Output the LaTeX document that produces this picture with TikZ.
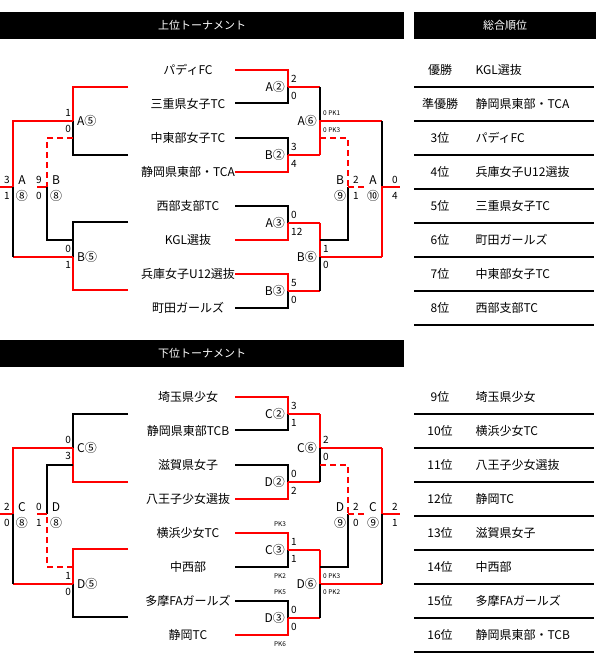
\documentclass[tikz,border=0pt]{standalone}
\usepackage{fontspec}
\setmainfont{Noto Sans CJK JP}
\usetikzlibrary{positioning}

\begin{document}
\begin{tikzpicture}[
        x=1pt, y=-1pt,
        win/.style={red, line width=2pt},
        lose/.style={black, line width=2pt},
        pkwin/.style={red, line width=2pt, dash pattern=on 6pt off 4pt},
        header/.style={fill=black, text=white, font=\fontsize{11}{13}\selectfont},
        team/.style={font=\fontsize{12}{14}\selectfont},
        match/.style={font=\fontsize{12}{14}\selectfont, inner sep=1pt},
        score/.style={font=\fontsize{10}{12}\selectfont, inner sep=1pt},
        pk/.style={font=\fontsize{6.5}{8}\selectfont, inner sep=1pt},
        rankline/.style={line width=2pt}
    ]
        \useasboundingbox (0,0) rectangle (600,670);

        % headers
        \node (hup) [header, minimum width=404pt, minimum height=27pt, anchor=north west] at (0,12) {上位トーナメント};
        \node (hrank) [header, minimum width=182pt, minimum height=27pt, anchor=north west] at (414,12) {総合順位};
        \node (hlow) [header, minimum width=404pt, minimum height=27pt, anchor=north west] at (0,340) {下位トーナメント};

        % ranking table
        \foreach \r/\t [count=\i from 0] in {優勝/KGL選抜, 準優勝/静岡県東部・TCA, 3位/パディFC, 4位/兵庫女子U12選抜,
                5位/三重県女子TC, 6位/町田ガールズ, 7位/中東部女子TC, 8位/西部支部TC,
                9位/埼玉県少女, 10位/横浜少女TC, 11位/八王子少女選抜, 12位/静岡TC,
                13位/滋賀県女子, 14位/中西部, 15位/多摩FAガールズ, 16位/静岡県東部・TCB} {
            \pgfmathsetmacro{\ry}{70+34*mod(\i,8)+327*int(\i/8)}
            \node (rank\i) [team] at (440,\ry) {\r};
            \node (name\i) [team, anchor=west] at (472,\ry) {\t};
            \draw [rankline] (414,\ry+17) -- (594,\ry+17);
        }

        % upper tournament
        \foreach \t [count=\i from 0] in {パディFC, 三重県女子TC, 中東部女子TC, 静岡県東部・TCA,
                西部支部TC, KGL選抜, 兵庫女子U12選抜, 町田ガールズ} {
            \node (up\i) [team] at (188,70+34*\i) {\t};
        }
        \draw [win] (235,70) -| (288,87);
        \draw [lose] (235,103) -| (288,87);
        \draw [win] (288,87) -- (320,87);
        \draw [lose] (235,138) -| (288,155);
        \draw [win] (235,172) -| (288,155);
        \draw [win] (288,155) -- (320,155);
        \draw [lose] (320,87) -- (320,121);
        \draw [win] (320,155) -- (320,121) -- (382,121);
        \draw [pkwin] (320,138) -- (348,138) -- (348,187);
        \draw [lose] (235,206) -| (288,223);
        \draw [win] (235,240) -| (288,223);
        \draw [win] (288,223) -- (320,223);
        \draw [win] (235,274) -| (288,291);
        \draw [lose] (235,308) -| (288,291);
        \draw [win] (288,291) -- (320,291);
        \draw [win] (320,223) -- (320,257) -- (382,257);
        \draw [lose] (320,291) -- (320,257);
        \draw [lose] (320,240) -- (348,240) -- (348,187);
        \draw [lose] (382,121) -- (382,187);
        \draw [win] (382,257) -- (382,187) -- (400,187);
        \draw [pkwin] (348,187) -- (364,187);
        % left side
        \draw [win] (128,87) -| (73,121);
        \draw [lose] (128,155) -| (73,121);
        \draw [win] (73,121) -- (13,121) -- (13,187) -- (0,187);
        \draw [pkwin] (73,138) -- (47,138) -- (47,187);
        \draw [win] (47,187) -- (37,187);
        \draw [lose] (128,222) -| (73,257);
        \draw [win] (128,290) -| (73,257);
        \draw [win] (73,257) -- (13,257);
        \draw [lose] (13,257) -- (13,187);
        \draw [lose] (73,240) -- (47,240) -- (47,187);

        \node (ua5) [match, anchor=west] at (76,121) {A⑤};
        \node [score, anchor=east] at (72,113) {1};
        \node [score, anchor=east] at (72,129) {0};
        \node (ub5) [match, anchor=west] at (76,257) {B⑤};
        \node [score, anchor=east] at (72,249) {0};
        \node [score, anchor=east] at (72,265) {1};
        \node [score] at (7,180) {3};
        \node [score] at (7,196) {1};
        \node (ua8) [match] at (22,180) {A};
        \node [match] at (22,196) {⑧};
        \node [score] at (39,180) {9};
        \node [score] at (39,196) {0};
        \node (ub8) [match] at (56,180) {B};
        \node [match] at (56,196) {⑧};

        \node (ua2) [match, anchor=east] at (286,87) {A②};
        \node [score, anchor=west] at (290,79) {2};
        \node [score, anchor=west] at (290,96) {0};
        \node (ub2) [match, anchor=east] at (286,155) {B②};
        \node [score, anchor=west] at (290,147) {3};
        \node [score, anchor=west] at (290,164) {4};
        \node (ua3) [match, anchor=east] at (286,223) {A③};
        \node [score, anchor=west] at (290,215) {0};
        \node [score, anchor=west] at (290,232) {12};
        \node (ub3) [match, anchor=east] at (286,291) {B③};
        \node [score, anchor=west] at (290,283) {5};
        \node [score, anchor=west] at (290,300) {0};
        \node (ua6) [match, anchor=east] at (318,121) {A⑥};
        \node [pk, anchor=west] at (322,113) {0 PK1};
        \node [pk, anchor=west] at (322,130) {0 PK3};
        \node (ub6) [match, anchor=east] at (318,257) {B⑥};
        \node [score, anchor=west] at (322,249) {1};
        \node [score, anchor=west] at (322,265) {0};
        \node (ub9) [match] at (340,180) {B};
        \node [match] at (340,196) {⑨};
        \node [score] at (356,180) {2};
        \node [score] at (356,196) {1};
        \node (ua10) [match] at (373,180) {A};
        \node [match] at (373,196) {⑩};
        \node [score] at (395,180) {0};
        \node [score] at (395,196) {4};

        % lower tournament
        \begin{scope}[yshift=-327pt]
        \foreach \t [count=\i from 0] in {埼玉県少女, 静岡県東部TCB, 滋賀県女子, 八王子少女選抜,
                横浜少女TC, 中西部, 多摩FAガールズ, 静岡TC} {
            \node (lo\i) [team] at (188,70+34*\i) {\t};
        }
        \draw [win] (235,70) -| (288,87);
        \draw [lose] (235,103) -| (288,87);
        \draw [win] (288,87) -- (320,87);
        \draw [lose] (235,138) -| (288,155);
        \draw [win] (235,172) -| (288,155);
        \draw [win] (288,155) -- (320,155);
        \draw [win] (320,87) -- (320,121) -- (382,121);
        \draw [lose] (320,155) -- (320,121);
        \draw [pkwin] (320,138) -- (348,138) -- (348,187);
        \draw [win] (235,206) -| (288,223);
        \draw [lose] (235,240) -| (288,223);
        \draw [win] (288,223) -- (320,223);
        \draw [lose] (235,274) -| (288,291);
        \draw [win] (235,308) -| (288,291);
        \draw [win] (288,291) -- (320,291);
        \draw [win] (320,223) -- (320,257) -- (382,257);
        \draw [lose] (320,291) -- (320,257);
        \draw [lose] (320,240) -- (348,240) -- (348,187);
        \draw [win] (382,121) -- (382,187) -- (400,187);
        \draw [lose] (382,257) -- (382,187);
        \draw [pkwin] (348,187) -- (364,187);
        % left side
        \draw [lose] (128,87) -| (73,121);
        \draw [win] (128,155) -| (73,121);
        \draw [win] (73,121) -- (13,121) -- (13,187) -- (0,187);
        \draw [lose] (73,138) -- (47,138) -- (47,187);
        \draw [win] (128,222) -| (73,257);
        \draw [lose] (128,290) -| (73,257);
        \draw [win] (73,257) -- (13,257);
        \draw [lose] (13,257) -- (13,187);
        \draw [pkwin] (73,240) -- (47,240) -- (47,187);
        \draw [win] (47,187) -- (37,187);

        \node (lc5) [match, anchor=west] at (76,121) {C⑤};
        \node [score, anchor=east] at (72,113) {0};
        \node [score, anchor=east] at (72,129) {3};
        \node (ld5) [match, anchor=west] at (76,257) {D⑤};
        \node [score, anchor=east] at (72,249) {1};
        \node [score, anchor=east] at (72,265) {0};
        \node [score] at (7,180) {2};
        \node [score] at (7,196) {0};
        \node (lc8) [match] at (22,180) {C};
        \node [match] at (22,196) {⑧};
        \node [score] at (39,180) {0};
        \node [score] at (39,196) {1};
        \node (ld8) [match] at (56,180) {D};
        \node [match] at (56,196) {⑧};

        \node (lc2) [match, anchor=east] at (286,87) {C②};
        \node [score, anchor=west] at (290,79) {3};
        \node [score, anchor=west] at (290,96) {1};
        \node (ld2) [match, anchor=east] at (286,155) {D②};
        \node [score, anchor=west] at (290,147) {0};
        \node [score, anchor=west] at (290,164) {2};
        \node (lc3) [match, anchor=east] at (286,223) {C③};
        \node [score, anchor=west] at (290,215) {1};
        \node [score, anchor=west] at (290,232) {1};
        \node [pk] at (280,197) {PK3};
        \node [pk] at (280,249) {PK2};
        \node (ld3) [match, anchor=east] at (286,291) {D③};
        \node [score, anchor=west] at (290,283) {0};
        \node [score, anchor=west] at (290,300) {0};
        \node [pk] at (280,265) {PK5};
        \node [pk] at (280,317) {PK6};
        \node (lc6) [match, anchor=east] at (318,121) {C⑥};
        \node [score, anchor=west] at (322,113) {2};
        \node [score, anchor=west] at (322,130) {0};
        \node (ld6) [match, anchor=east] at (318,257) {D⑥};
        \node [pk, anchor=west] at (322,249) {0 PK3};
        \node [pk, anchor=west] at (322,265) {0 PK2};
        \node (ld9) [match] at (340,180) {D};
        \node [match] at (340,196) {⑨};
        \node [score] at (356,180) {2};
        \node [score] at (356,196) {0};
        \node (lc9) [match] at (373,180) {C};
        \node [match] at (373,196) {⑨};
        \node [score] at (395,180) {2};
        \node [score] at (395,196) {1};
        \end{scope}

    \end{tikzpicture}
\end{document}
